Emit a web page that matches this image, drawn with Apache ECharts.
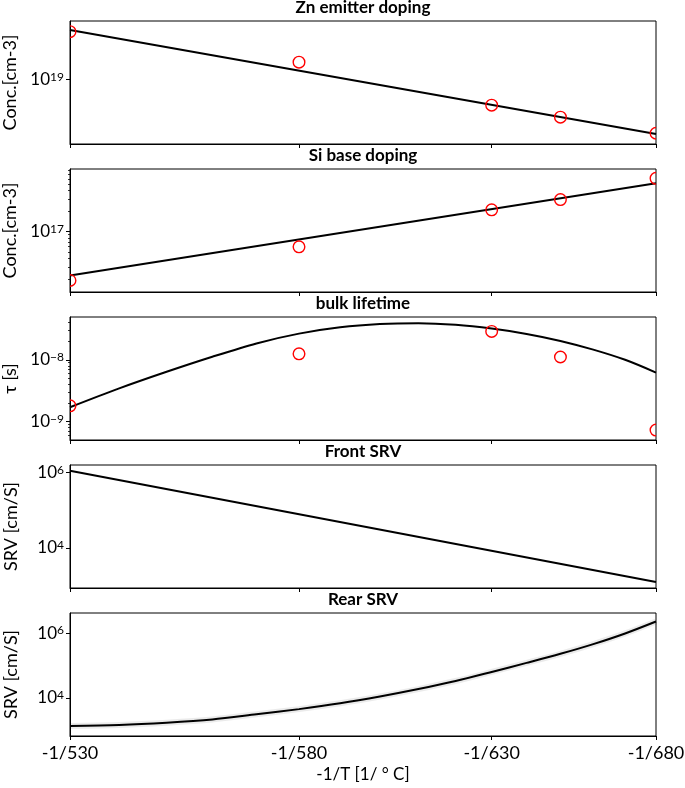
<!DOCTYPE html>
<html>
<head>
<meta charset="utf-8">
<script src="https://cdn.jsdelivr.net/npm/echarts@6/dist/echarts.min.js"></script>
<style>
html,body{margin:0;padding:0;background:#fff;}
#chart{width:685px;height:788px;}
</style>
</head>
<body>
<div id="chart"></div>
<script>
// ---- data ----
const panelTitles = ['Zn emitter doping', 'Si base doping', 'bulk lifetime', 'Front SRV', 'Rear SRV'];
const panelYNames = ['Conc.[cm-3]', 'Conc.[cm-3]', '\u03c4 [s]', 'SRV [cm/S]', 'SRV [cm/S]'];
const xTickTemps = [530, 580, 630, 680];
const xTickLabels = ['-1/530', '-1/580', '-1/630', '-1/680'];

const measuredT = [530, 580, 630, 650, 680];
const znMeasured = [3.82e19, 1.63e19, 4.91e18, 3.51e18, 2.24e18];
const siMeasured = [1.90e16, 5.96e16, 2.09e17, 2.96e17, 6.10e17];
const tauMeasured = [1.80e-9, 1.25e-8, 2.88e-8, 1.11e-8, 7.3e-10];

const lineFitT = [530, 680];
const znFit = [3.99e19, 2.19e18];
const siFit = [2.25e16, 5.15e17];
const frontFit = [1.10e6, 1253];

const curveT = [530, 540, 550, 560, 570, 580, 590, 600, 610, 620, 630, 640, 650, 660, 670, 680];
const tauFit = [1.71e-9, 3.45e-9, 6.4e-9, 1.12e-8, 1.84e-8, 2.65e-8, 3.35e-8, 3.78e-8, 3.9e-8, 3.68e-8, 3.2e-8, 2.62e-8, 2.02e-8, 1.46e-8, 1.0e-8, 6.22e-9];
const rearFit = [1349, 1445, 1698, 2138, 3090, 4467, 6761, 1.096e4, 1.862e4, 3.311e4, 6.31e4, 1.202e5, 2.291e5, 4.571e5, 9.772e5, 2.291e6];

const yMin = [1.66e18, 1.285e16, 5.05e-10, 869, 659];
const yMax = [5.14e19, 8.36e17, 4.92e-8, 1.563e6, 4.19e6];
const yMajor = [[1e19], [1e17], [1e-9, 1e-8], [1e4, 1e6], [1e4, 1e6]];
const yMinor = [null,
  [2e16, 3e16, 4e16, 5e16, 6e16, 7e16, 8e16, 9e16, 2e17, 3e17, 4e17, 5e17, 6e17, 7e17, 8e17],
  [6e-10, 7e-10, 8e-10, 9e-10, 2e-9, 3e-9, 4e-9, 5e-9, 6e-9, 7e-9, 8e-9, 9e-9, 2e-8, 3e-8, 4e-8],
  null, null];

// ---- layout ----
const FONT = 'Lato';
const gridTops = [21, 169, 317, 465, 613];
const gridH = 123, gridLeft = 70, gridW = 586;
const toX = T => -1 / T;

const grids = [], xAxes = [], yAxes = [], series = [], titles = [], majorIdx = [];

function supLabel(v) {
  const e = Math.round(Math.log10(v));
  const s = e < 0 ? '\u2212' + (-e) : String(e);
  return '{b|10}{s|' + s + '}';
}

for (let i = 0; i < 5; i++) {
  grids.push({left: gridLeft, top: gridTops[i], width: gridW, height: gridH, show: true,
    outerBoundsMode: 'none', containLabel: false,
    borderColor: '#000', borderWidth: 1, backgroundColor: 'transparent'});
  titles.push({text: panelTitles[i], left: gridLeft + gridW / 2, textAlign: 'center', top: gridTops[i] - 22, padding: 0,
    textStyle: {fontFamily: FONT, fontWeight: 'bold', fontSize: 17, color: '#000'}});
  xAxes.push({
    type: 'value', gridIndex: i, min: toX(530), max: toX(680),
    axisLine: {show: true, lineStyle: {color: '#000', width: 1}},
    splitLine: {show: false},
    axisTick: {show: true, inside: false, length: 4, lineStyle: {color: '#000', width: 1}, customValues: xTickTemps.map(toX)},
    axisLabel: {show: i === 4, customValues: xTickTemps.map(toX), margin: 8, showMinLabel: true, showMaxLabel: true,
      hideOverlap: false, fontFamily: FONT, fontSize: 18, color: '#000',
      formatter: v => { let best = 0; xTickTemps.forEach((T, k) => { if (Math.abs(toX(T) - v) < Math.abs(toX(xTickTemps[best]) - v)) best = k; }); return xTickLabels[best]; }},
    name: i === 4 ? '-1/T [1/ \u00b0 C]' : '', nameLocation: 'middle', nameGap: 30,
    nameTextStyle: {fontFamily: FONT, fontSize: 17, color: '#000'}
  });
  majorIdx.push(yAxes.length);
  yAxes.push({
    type: 'log', logBase: 10, gridIndex: i, position: 'left', min: yMin[i], max: yMax[i],
    axisLine: {show: true, lineStyle: {color: '#000', width: 1}},
    splitLine: {show: false}, minorTick: {show: false},
    axisTick: {show: true, inside: false, length: 4, lineStyle: {color: '#000', width: 1}, customValues: yMajor[i]},
    axisLabel: {show: true, customValues: yMajor[i], margin: 6, showMinLabel: true, showMaxLabel: true, hideOverlap: false,
      formatter: supLabel,
      rich: {
        b: {fontFamily: FONT, fontSize: 17, color: '#000', verticalAlign: 'bottom', lineHeight: 17, padding: [7, 0, 0, 0]},
        s: {fontFamily: FONT, fontSize: 12, color: '#000', verticalAlign: 'top', lineHeight: 12}
      }},
    name: panelYNames[i], nameLocation: 'middle', nameGap: 50, nameRotate: 90,
    nameTextStyle: {fontFamily: FONT, fontSize: 18, color: '#000'}
  });
  if (yMinor[i]) {
    yAxes.push({
      type: 'log', logBase: 10, gridIndex: i, position: 'left', min: yMin[i], max: yMax[i],
      axisLine: {show: false}, splitLine: {show: false},
      axisTick: {show: true, inside: false, length: 2, lineStyle: {color: '#000', width: 0.8}, customValues: yMinor[i]},
      axisLabel: {show: false, customValues: yMinor[i]}
    });
  }
}

function lineSeries(i, Ts, vals, color, width, z) {
  return {type: 'line', xAxisIndex: i, yAxisIndex: majorIdx[i], showSymbol: false, smooth: 0.3, clip: true,
    data: Ts.map((T, k) => [toX(T), vals[k]]), lineStyle: {color: color, width: width}, z: z, silent: true};
}
function circleSeries(i, Ts, vals) {
  return {type: 'custom', xAxisIndex: i, yAxisIndex: majorIdx[i], clip: true, z: 5,
    data: Ts.map((T, k) => [toX(T), vals[k]]), encode: {x: 0, y: 1},
    renderItem: (params, api) => {
      const p = api.coord([api.value(0), api.value(1)]);
      const cs = params.coordSys;
      return {type: 'circle', shape: {cx: p[0], cy: p[1], r: 5.8},
        style: {fill: 'none', stroke: '#ff0000', lineWidth: 1.4},
        clipPath: {type: 'rect', shape: {x: cs.x, y: cs.y, width: cs.width, height: cs.height}}};
    }};
}

series.push(lineSeries(0, lineFitT, znFit, '#000', 2, 3));
series.push(circleSeries(0, measuredT, znMeasured));
series.push(lineSeries(1, lineFitT, siFit, '#000', 2, 3));
series.push(circleSeries(1, measuredT, siMeasured));
series.push(lineSeries(2, curveT, tauFit, '#000', 2, 3));
series.push(circleSeries(2, measuredT, tauMeasured));
series.push(lineSeries(3, lineFitT, frontFit, '#000', 2, 3));
series.push(lineSeries(4, curveT, rearFit, 'rgba(0,0,0,0.08)', 6, 2));
series.push(lineSeries(4, curveT, rearFit, '#000', 2, 3));

const chart = echarts.init(document.getElementById('chart'), null, {renderer: 'canvas'});
chart.setOption({animation: false, backgroundColor: '#fff', title: titles, grid: grids, xAxis: xAxes, yAxis: yAxes, series: series});
</script>
</body>
</html>
